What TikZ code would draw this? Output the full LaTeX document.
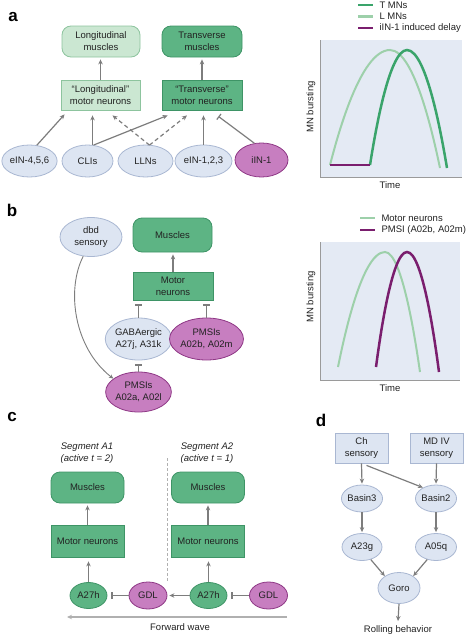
\documentclass[tikz,border=0pt]{standalone}
\usepackage{fontspec}
\setmainfont{Liberation Sans}
\usetikzlibrary{arrows.meta,shapes.geometric,calc}
\definecolor{lgfill}{HTML}{CBE7D2}
\definecolor{lgdraw}{HTML}{8DC49E}
\definecolor{dgfill}{HTML}{5DB484}
\definecolor{dgdraw}{HTML}{3E9466}
\definecolor{blfill}{HTML}{DDE5F2}
\definecolor{bldraw}{HTML}{A9B7D2}
\definecolor{mgfill}{HTML}{C77EC0}
\definecolor{mgdraw}{HTML}{8E3785}
\definecolor{plotbg}{HTML}{E4EAF4}
\definecolor{axisgray}{HTML}{9A9A9A}
\definecolor{linegray}{HTML}{7D7D7D}
\definecolor{wavegray}{HTML}{B0B0B0}
\definecolor{tgreen}{HTML}{3AA46B}
\definecolor{lgreen}{HTML}{9DD0AA}
\definecolor{dpurple}{HTML}{7A1E6E}
\definecolor{txt}{HTML}{222222}
\begin{document}
\begin{tikzpicture}[x=1pt,y=-1pt,
  every node/.style={text=txt},
  font=\fontsize{9.5}{12}\selectfont,
  box/.style={rectangle, inner sep=0pt, align=center, line width=0.8pt},
  lgbox/.style={box, fill=lgfill, draw=lgdraw},
  dgbox/.style={box, fill=dgfill, draw=dgdraw},
  blbox/.style={box, fill=blfill, draw=bldraw},
  rnd/.style={rounded corners=9pt},
  ell/.style={ellipse, inner sep=0pt, align=center, line width=0.8pt},
  blell/.style={ell, fill=blfill, draw=bldraw},
  mgell/.style={ell, fill=mgfill, draw=mgdraw},
  gnell/.style={ell, fill=dgfill, draw=dgdraw},
  arr/.style={draw=linegray, line width=1.2pt, -{Stealth[length=5pt,width=4.5pt]}},
  thinarr/.style={draw=linegray, line width=0.9pt, -{Stealth[length=4.5pt,width=4pt]}},
  dasharr/.style={arr, dash pattern=on 4pt off 3pt},
  inh/.style={draw=linegray, line width=1.2pt, -{Bar[width=7pt,line width=1.2pt]}},
  panel/.style={font=\fontsize{17}{17}\bfseries\selectfont, text=black},
  plotarea/.style={fill=plotbg},
  axis/.style={draw=axisgray, line width=0.8pt},
  ylab/.style={rotate=90},
]
\useasboundingbox (0,0) rectangle (472,637);

% ================= panel a =================
\node[panel] (la) at (13,17) {a};
\node[lgbox, rnd, minimum width=78pt, minimum height=31pt] (Lm) at (101,41.5) {Longitudinal\\muscles};
\node[dgbox, rnd, minimum width=80pt, minimum height=31pt] (Tm) at (202,41.5) {Transverse\\muscles};
\node[lgbox, minimum width=79pt, minimum height=30pt] (Lmn) at (100.5,95) {“Longitudinal”\\motor neurons};
\node[dgbox, minimum width=80pt, minimum height=30pt] (Tmn) at (202,95) {“Transverse”\\motor neurons};
\node[blell, minimum width=55pt, minimum height=32pt] (e456) at (29.5,161) {eIN-4,5,6};
\node[blell, minimum width=51pt, minimum height=32pt] (cli) at (87.5,161) {CLIs};
\node[blell, minimum width=55pt, minimum height=32pt] (lln) at (145.5,161) {LLNs};
\node[blell, minimum width=57pt, minimum height=32pt] (e123) at (203.5,161) {eIN-1,2,3};
\node[mgell, minimum width=53pt, minimum height=34pt] (iin) at (261.5,160) {iIN-1};

\draw[arr] (Lmn.north) -- ($(Lm.south)+(-0.5,2)$);
\draw[arr] (Tmn.north) -- ($(Tm.south)+(0,2)$);
\draw[arr] (e456.65) -- ($(Lmn.south west)+(4,4)$);
\draw[arr] ($(cli.north)+(5,0)$) -- ($(cli.north |- Lmn.south)+(5,5)$);
\draw[arr] ($(cli.north)+(6,0.5)$) -- ($(Tmn.south west)+(6,5)$);
\draw[dasharr] ($(lln.north)+(4,0.5)$) -- ($(Lmn.south)+(12,5)$);
\draw[dasharr] ($(lln.north)+(4,0.5)$) -- ($(Tmn.south)+(-15,5)$);
\draw[arr] (e123.north) -- ($(e123.north |- Tmn.south)+(0,5)$);
\draw[inh] (iin.113) -- ($(Tmn.south east)+(-24,6)$);

% graph a
\fill[plotarea] (320,40) rectangle (462,177);
\draw[axis] (320,40) -- (320,177) -- (462,177);
\coordinate (ga1s) at (330,165);
\draw[lgreen, line width=2pt] (ga1s) parabola bend (390,50) (440,168);
\draw[tgreen, line width=2.5pt] (370,165) parabola bend (407,50) (447,168);
\draw[dpurple, line width=2.5pt] (ga1s) -- (370,165);
\node[ylab] (gaY) at (311,107) {MN bursting};
\node (gaX) at (390,185) {Time};
\draw[tgreen, line width=2.5pt] (358,5) -- (373,5);
\draw[lgreen, line width=2.5pt] (358,16.5) -- (373,16.5);
\draw[dpurple, line width=2.5pt] (358,28) -- (373,28);
\node[anchor=west] (legT) at (376,5) {T MNs};
\node[anchor=west] (legL) at (376,16.5) {L MNs};
\node[anchor=west] (legI) at (376,28) {iIN-1 induced delay};

% ================= panel b =================
\node[panel] (lb) at (12,210) {b};
\node[blell, minimum width=62pt, minimum height=39pt] (dbd) at (91,237) {dbd\\sensory};
\node[dgbox, rnd, minimum width=79pt, minimum height=34pt] (musb) at (172.5,235) {Muscles};
\node[dgbox, minimum width=80pt, minimum height=28pt] (mnb) at (173,286) {Motor\\neurons};
\node[blell, minimum width=63pt, minimum height=42pt] (gaba) at (138.5,339) {GABAergic\\A27j, A31k};
\node[mgell, minimum width=63pt, minimum height=42pt] (pmb) at (206.5,339) {PMSIs\\A02b, A02m};
\node[mgell, minimum width=63pt, minimum height=40pt] (pma) at (138.5,392) {PMSIs\\A02a, A02l};

\draw[arr] (mnb.north) -- ($(musb.south)+(0.5,2)$);
\draw[inh] (gaba.north) -- ($(gaba.north |- mnb.south)+(0,4)$);
\draw[inh] (pmb.north) -- ($(pmb.north |- mnb.south)+(0,4)$);
\draw[inh] (pma.north) -- ($(pma.north |- gaba.south)+(0,4)$);
\draw[thinarr] (dbd.248) .. controls (66,290) and (74,348) .. (pma.152);

% graph b
\fill[plotarea] (320,242) rectangle (460,380);
\draw[axis] (320,242) -- (320,380) -- (460,380);
\draw[lgreen, line width=2pt] (338,367) parabola bend (385,252) (420,372);
\draw[dpurple, line width=2.5pt] (376,367) parabola bend (407,252) (439,372);
\node[ylab] (gbY) at (311,297) {MN bursting};
\node (gbX) at (390,388) {Time};
\draw[lgreen, line width=2.5pt] (360,218) -- (375,218);
\draw[dpurple, line width=2.5pt] (360,230) -- (375,230);
\node[anchor=west] (legM) at (378,218) {Motor neurons};
\node[anchor=west] (legP) at (378,230) {PMSI (A02b, A02m)};

% ================= panel c =================
\node[panel] (lc) at (12,417) {c};
\node[align=center, font=\fontsize{9.5}{11.5}\itshape\selectfont] (sa1) at (87,453) {Segment A1\\(active t = 2)};
\node[align=center, font=\fontsize{9.5}{11.5}\itshape\selectfont] (sa2) at (207,453) {Segment A2\\(active t = 1)};
\coordinate (dvt) at (167,458);
\coordinate (dvb) at (167,582);
\draw[wavegray, line width=0.8pt, dash pattern=on 3pt off 2pt] (dvt) -- (dvb);

\node[dgbox, rnd, minimum width=73pt, minimum height=31pt] (mus1) at (87.5,487.5) {Muscles};
\node[dgbox, rnd, minimum width=73pt, minimum height=31pt] (mus2) at (208,487.5) {Muscles};
\node[dgbox, minimum width=73pt, minimum height=32pt] (mn1) at (87.5,541) {Motor neurons};
\node[dgbox, minimum width=73pt, minimum height=32pt] (mn2) at (208,541) {Motor neurons};
\node[gnell, minimum width=37pt, minimum height=26pt] (a271) at (88.5,595.5) {A27h};
\node[mgell, minimum width=38pt, minimum height=27pt] (gdl1) at (148,595.5) {GDL};
\node[gnell, minimum width=37pt, minimum height=26pt] (a272) at (208.5,595.5) {A27h};
\node[mgell, minimum width=38pt, minimum height=27pt] (gdl2) at (268.5,595.5) {GDL};

\draw[arr] (mn1.north) -- ($(mus1.south)+(0,2)$);
\draw[arr] (mn2.north) -- ($(mus2.south)+(0,2)$);
\draw[arr] (a271.north) -- ($(a271.north |- mn1.south)+(0,4)$);
\draw[arr] (a272.north) -- ($(a272.north |- mn2.south)+(0,4)$);
\draw[inh] (gdl1.west) -- ($(a271.east)+(4,0)$);
\draw[inh] (gdl2.west) -- ($(a272.east)+(4,0)$);
\draw[arr] (a272.west) -- ($(gdl1.east)+(2,0)$);

\coordinate (fws) at (287,617);
\coordinate (fwe) at (67,617);
\draw[draw=wavegray, line width=1.2pt, -{Stealth[length=5pt,width=4.5pt]}] (fws) -- (fwe);
\node (fwt) at (180,627) {Forward wave};

% ================= panel d =================
\node[panel] (ld) at (321,420) {d};
\node[blbox, minimum width=53pt, minimum height=30pt] (ch) at (361.5,448) {Ch\\sensory};
\node[blbox, minimum width=53pt, minimum height=30pt] (md) at (436.5,448) {MD IV\\sensory};
\node[blell, minimum width=40pt, minimum height=27pt] (b3) at (362,498.5) {Basin3};
\node[blell, minimum width=41pt, minimum height=27pt] (b2) at (436,498.5) {Basin2};
\node[blell, minimum width=40pt, minimum height=27pt] (a23) at (362,547) {A23g};
\node[blell, minimum width=41pt, minimum height=27pt] (a05) at (436,547) {A05q};
\node[blell, minimum width=42pt, minimum height=31pt] (goro) at (399,588) {Goro};
\node (roll) at (398,630) {Rolling behavior};

\draw[arr] (ch.south) -- ($(b3.north)+(0,-1)$);
\draw[arr] (md.south) -- ($(b2.north)+(0,-1)$);
\draw[arr] ($(ch.south)+(5,2)$) -- (b2.140);
\draw[arr] (b3.south) -- ($(a23.north)+(0,-1)$);
\draw[arr] (b2.south) -- ($(a05.north)+(0,-1)$);
\draw[arr] (a23.-55) -- (goro.140);
\draw[arr] (a05.-125) -- (goro.40);
\draw[arr] (goro.south) -- ($(roll.north)+(0,-1)$);
\end{tikzpicture}
\end{document}
